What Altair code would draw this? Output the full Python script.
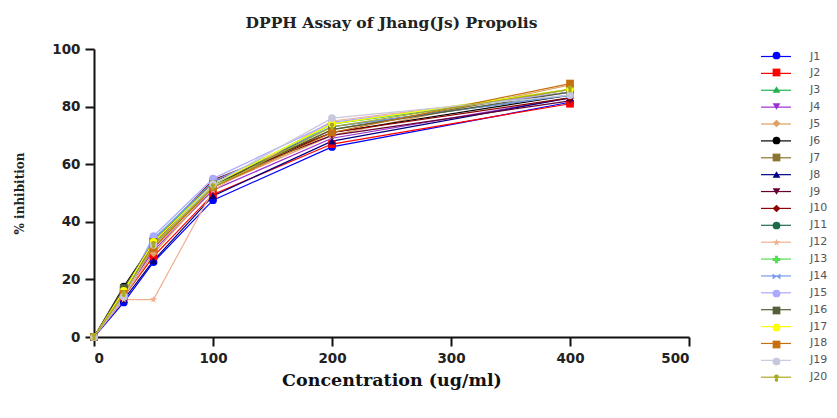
import altair as alt
import pandas as pd

conc = [0, 25, 50, 100, 200, 400]
series = [f"J{i}" for i in range(1, 21)]
values = {
    "J1": [0, 12, 26, 47.5, 66, 81.5],
    "J2": [0, 14, 28, 49.5, 67, 81],
    "J3": [0, 15.5, 32, 52, 74, 85],
    "J4": [0, 15, 30, 51, 69, 83],
    "J5": [0, 14, 29, 52, 70, 87.5],
    "J6": [0, 17.5, 33, 53, 71, 84],
    "J7": [0, 16, 31, 52, 72, 86],
    "J8": [0, 13, 26.5, 49, 68, 83],
    "J9": [0, 16, 32, 54, 70, 82],
    "J10": [0, 16.5, 33, 54.5, 71, 83],
    "J11": [0, 15, 34, 53, 73, 84],
    "J12": [0, 13, 13, 51, 75, 85],
    "J13": [0, 16, 34, 53, 74, 86],
    "J14": [0, 15, 34, 54, 73, 84],
    "J15": [0, 15, 35, 55, 74.5, 85],
    "J16": [0, 17, 33, 53, 72, 85],
    "J17": [0, 16, 33, 53, 74, 86],
    "J18": [0, 15, 31, 52, 71, 88],
    "J19": [0, 14, 32, 53, 76, 84],
    "J20": [0, 15, 32, 52, 73, 86],
}
colors = ["#0000ff", "#ff0000", "#22b14c", "#9b30d0", "#e0a060", "#000000",
          "#8b7330", "#000080", "#660033", "#8b0000", "#1e6b4a", "#f0b090",
          "#55dd55", "#7799ee", "#aaaaff", "#55603a", "#ffff00", "#c87010",
          "#c8c8dd", "#aaaa22"]
star = "M0,-1L0.24,-0.33L0.95,-0.31L0.38,0.12L0.59,0.81L0,0.4L-0.59,0.81L-0.38,0.12L-0.95,-0.31L-0.24,-0.33Z"
bowtie = "M-1,-0.8L1,0.8L1,-0.8L-1,0.8Z"
clover = "M0,-1A0.45,0.45 0 1 1 0.2,0A0.45,0.45 0 1 1 -0.2,0A0.45,0.45 0 1 1 0,-1Z"
shapes = ["circle", "square", "triangle-up", "triangle-down", "diamond", "circle",
          "square", "triangle-up", "triangle-down", "diamond", "circle", star,
          "cross", bowtie, "circle", "square", "circle", "square", "circle", clover]

rows = []
for s in series:
    for c, v in zip(conc, values[s]):
        rows.append({"conc": c, "inhib": v, "series": s})
df = pd.DataFrame(rows)

x = alt.X("conc:Q", scale=alt.Scale(domain=[0, 500], nice=False),
          axis=alt.Axis(values=[0, 100, 200, 300, 400, 500], title="Concentration (ug/ml)",
                        titleFont="DejaVu Serif", titleFontSize=17.5, titleFontWeight="bold",
                        titlePadding=7, titleColor="#111"))
y = alt.Y("inhib:Q", scale=alt.Scale(domain=[0, 100], nice=False),
          axis=alt.Axis(values=[0, 20, 40, 60, 80, 100], title="% inhibition",
                        titleFont="DejaVu Serif", titleFontSize=12, titleFontWeight="bold",
                        titlePadding=25, titleColor="#222"))

legend_common = dict(orient="none", title=None, padding=0,
                     labelFont="DejaVu Sans", labelFontSize=11, labelColor="#555",
                     symbolStrokeWidth=1.2)

lines = alt.Chart(df).mark_line(strokeWidth=1.2).encode(
    x=x, y=y,
    color=alt.Color("series:N", scale=alt.Scale(domain=series, range=colors),
                    legend=alt.Legend(symbolType="M-2.5,0H2.5", symbolSize=144, rowPadding=4.88,
                                      labelOffset=27, legendX=675, legendY=0.5, **legend_common)),
    order=alt.Order("conc:Q"),
)

points = alt.Chart(df).mark_point(filled=True, size=60, opacity=1).encode(
    x=x, y=y,
    color=alt.Color("series:N", scale=alt.Scale(domain=series, range=colors),
                    legend=alt.Legend(symbolSize=60, legendX=677, legendY=1, rowPadding=5.0,
                                      labelOffset=18, labelOpacity=0, labelExpr="' '",
                                      **legend_common)),
    shape=alt.Shape("series:N", scale=alt.Scale(domain=series, range=shapes),
                    legend=alt.Legend(symbolSize=60, legendX=677, legendY=1, rowPadding=5.0,
                                      labelOffset=18, labelOpacity=0, labelExpr="' '",
                                      **legend_common)),
)

chart = alt.layer(lines, points).resolve_legend(color="independent", shape="independent").properties(
    width=595, height=288,
    autosize=alt.AutoSizeParams(type="none"),
    padding={"left": 86, "top": 41, "right": 140, "bottom": 73},
    title=alt.TitleParams("DPPH Assay of Jhang(Js) Propolis", font="DejaVu Serif",
                          fontSize=15.5, fontWeight="bold", color="#222", offset=11, anchor="middle"),
).configure_view(stroke=None).configure_axis(
    domainWidth=2, domainColor="#111", tickWidth=2, tickColor="#111", tickSize=9,
    labelFont="DejaVu Sans", labelFontWeight="bold", labelFontSize=13.5, labelColor="#222",
    grid=False, labelPadding=5,
)

chart.save("out.html", embed_options={"renderer": "svg", "actions": False})
